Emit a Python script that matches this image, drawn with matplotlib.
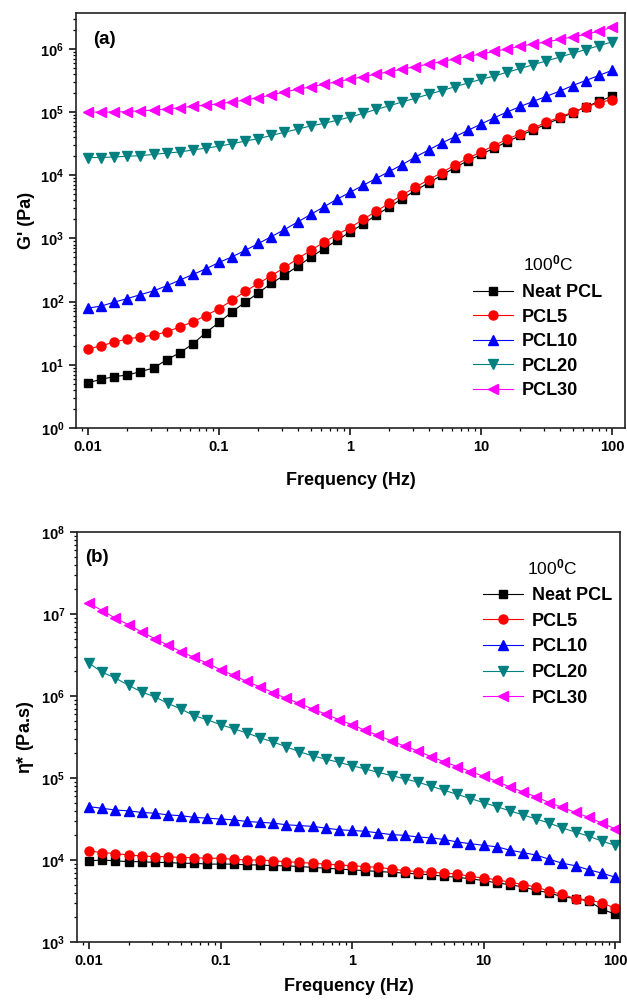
import numpy as np
import matplotlib
matplotlib.use("Agg")
import matplotlib.pyplot as plt
from matplotlib.ticker import LogLocator, NullFormatter, LogFormatterMathtext

plt.rcParams['font.family'] = ['Liberation Sans', 'DejaVu Sans']
plt.rcParams['font.weight'] = 'bold'
plt.rcParams['mathtext.fontset'] = 'custom'
plt.rcParams['mathtext.rm'] = 'Liberation Sans'
plt.rcParams['mathtext.bf'] = 'Liberation Sans:bold'
plt.rcParams['mathtext.default'] = 'bf'

# frequency sweep, 10 points per decade (Hz)
freq = [0.01, 0.0126, 0.0158, 0.02, 0.0251, 0.0316, 0.0398, 0.0501, 0.0631, 0.0794,
        0.1, 0.126, 0.158, 0.2, 0.251, 0.316, 0.398, 0.501, 0.631, 0.794,
        1, 1.26, 1.58, 2, 2.51, 3.16, 3.98, 5.01, 6.31, 7.94,
        10, 12.6, 15.8, 20, 25.1, 31.6, 39.8, 50.1, 63.1, 79.4, 100]

labels = ['Neat PCL', 'PCL5', 'PCL10', 'PCL20', 'PCL30']
colors = ['black', 'red', 'blue', '#008080', 'magenta']
markers = ['s', 'o', '^', 'v', '<']

# storage modulus G' (Pa)
g_neat = [5.2, 5.9, 6.5, 6.9, 7.8, 8.9, 12.0, 15.5, 21.4, 32.4,
          46.8, 69.2, 97.7, 138, 195, 263, 363, 501, 692, 933,
          1260, 1700, 2340, 3160, 4270, 5750, 7590, 1.0e4, 1.32e4, 1.70e4,
          2.14e4, 2.69e4, 3.39e4, 4.27e4, 5.25e4, 6.46e4, 7.94e4, 9.77e4, 1.20e5, 1.48e5, 1.78e5]
g_pcl5 = [17.8, 20.0, 22.9, 25.7, 27.5, 29.5, 33.1, 39.8, 47.9, 60.3,
          77.6, 105, 145, 195, 257, 347, 479, 646, 871, 1150,
          1480, 2000, 2690, 3630, 4900, 6460, 8510, 1.10e4, 1.45e4, 1.86e4,
          2.34e4, 2.95e4, 3.72e4, 4.57e4, 5.62e4, 6.92e4, 8.32e4, 1.0e5, 1.20e5, 1.41e5, 1.58e5]
g_pcl10 = [79, 85, 98, 112, 129, 148, 178, 219, 269, 331,
           417, 513, 646, 832, 1070, 1380, 1820, 2400, 3160, 4170,
           5370, 6920, 8910, 1.15e4, 1.48e4, 1.95e4, 2.51e4, 3.24e4, 4.07e4, 5.13e4,
           6.46e4, 8.13e4, 1.0e5, 1.23e5, 1.48e5, 1.78e5, 2.14e5, 2.63e5, 3.16e5, 3.80e5, 4.57e5]
g_pcl20 = [1.91e4, 1.91e4, 1.95e4, 2.0e4, 2.04e4, 2.14e4, 2.24e4, 2.34e4, 2.51e4, 2.69e4,
           2.88e4, 3.16e4, 3.47e4, 3.80e4, 4.27e4, 4.79e4, 5.37e4, 6.03e4, 6.61e4, 7.41e4,
           8.32e4, 9.55e4, 1.10e5, 1.26e5, 1.45e5, 1.66e5, 1.91e5, 2.19e5, 2.51e5, 2.88e5,
           3.31e5, 3.72e5, 4.27e5, 4.90e5, 5.62e5, 6.46e5, 7.41e5, 8.51e5, 9.77e5, 1.12e6, 1.29e6]
g_pcl30 = [1.00e5, 1.00e5, 1.00e5, 1.02e5, 1.05e5, 1.07e5, 1.12e5, 1.17e5, 1.23e5, 1.29e5,
           1.35e5, 1.45e5, 1.55e5, 1.70e5, 1.86e5, 2.09e5, 2.29e5, 2.51e5, 2.75e5, 3.02e5,
           3.31e5, 3.63e5, 3.98e5, 4.37e5, 4.79e5, 5.25e5, 5.75e5, 6.31e5, 6.92e5, 7.59e5,
           8.32e5, 9.12e5, 1.0e6, 1.10e6, 1.20e6, 1.29e6, 1.41e6, 1.55e6, 1.70e6, 1.91e6, 2.19e6]

# complex viscosity eta* (Pa.s)
eta_neat = [9.77e3, 1.0e4, 9.77e3, 9.55e3, 9.55e3, 9.33e3, 9.33e3, 9.12e3, 9.12e3, 8.91e3,
            8.91e3, 8.91e3, 8.71e3, 8.71e3, 8.51e3, 8.51e3, 8.32e3, 8.13e3, 7.94e3, 7.76e3,
            7.59e3, 7.41e3, 7.24e3, 7.08e3, 6.92e3, 6.76e3, 6.61e3, 6.31e3, 6.17e3, 5.89e3,
            5.62e3, 5.25e3, 5.01e3, 4.68e3, 4.27e3, 3.98e3, 3.55e3, 3.39e3, 3.16e3, 2.51e3, 2.19e3]
eta_pcl5 = [1.29e4, 1.23e4, 1.20e4, 1.15e4, 1.12e4, 1.10e4, 1.10e4, 1.07e4, 1.07e4, 1.05e4,
            1.05e4, 1.02e4, 1.0e4, 1.0e4, 9.77e3, 9.55e3, 9.33e3, 9.12e3, 8.91e3, 8.71e3,
            8.51e3, 8.32e3, 8.13e3, 7.76e3, 7.41e3, 7.24e3, 7.08e3, 6.92e3, 6.76e3, 6.31e3,
            6.03e3, 5.75e3, 5.37e3, 5.01e3, 4.68e3, 4.17e3, 3.80e3, 3.39e3, 3.24e3, 3.02e3, 2.57e3]
eta_pcl10 = [4.47e4, 4.27e4, 4.07e4, 3.98e4, 3.80e4, 3.72e4, 3.55e4, 3.47e4, 3.31e4, 3.24e4,
             3.16e4, 3.09e4, 2.95e4, 2.88e4, 2.82e4, 2.69e4, 2.63e4, 2.57e4, 2.45e4, 2.34e4,
             2.29e4, 2.24e4, 2.14e4, 2.04e4, 2.0e4, 1.91e4, 1.86e4, 1.78e4, 1.66e4, 1.58e4,
             1.51e4, 1.45e4, 1.32e4, 1.23e4, 1.15e4, 1.02e4, 9.12e3, 8.51e3, 7.59e3, 6.92e3, 6.17e3]
eta_pcl20 = [2.51e6, 1.95e6, 1.66e6, 1.35e6, 1.12e6, 9.77e5, 8.13e5, 6.92e5, 5.75e5, 5.13e5,
             4.47e5, 3.98e5, 3.55e5, 3.09e5, 2.75e5, 2.40e5, 2.09e5, 1.86e5, 1.70e5, 1.55e5,
             1.41e5, 1.29e5, 1.17e5, 1.07e5, 9.77e4, 8.91e4, 7.94e4, 7.08e4, 6.31e4, 5.62e4,
             5.01e4, 4.47e4, 3.98e4, 3.55e4, 3.16e4, 2.82e4, 2.45e4, 2.19e4, 1.95e4, 1.70e4, 1.51e4]
eta_pcl30 = [1.35e7, 1.10e7, 8.91e6, 7.41e6, 6.03e6, 5.01e6, 4.17e6, 3.47e6, 2.95e6, 2.51e6,
             2.09e6, 1.78e6, 1.51e6, 1.29e6, 1.10e6, 9.33e5, 8.13e5, 6.92e5, 6.03e5, 5.13e5,
             4.47e5, 3.80e5, 3.31e5, 2.82e5, 2.45e5, 2.14e5, 1.82e5, 1.58e5, 1.38e5, 1.20e5,
             1.05e5, 9.12e4, 7.76e4, 6.76e4, 5.89e4, 5.01e4, 4.37e4, 3.80e4, 3.31e4, 2.82e4, 2.40e4]

g_data = [g_neat, g_pcl5, g_pcl10, g_pcl20, g_pcl30]
eta_data = [eta_neat, eta_pcl5, eta_pcl10, eta_pcl20, eta_pcl30]

W, H = 627, 1002
fig = plt.figure(figsize=(W / 100, H / 100), dpi=100)
ax1 = fig.add_axes([76 / W, 1 - 428 / H, (625 - 76) / W, (428 - 13) / H])
ax2 = fig.add_axes([77 / W, 1 - 942 / H, (620 - 77) / W, (942 - 532) / H])


def style_axis(ax, ylabel, xpad):
    ax.set_xscale('log')
    ax.set_yscale('log')
    ax.set_xticks([0.01, 0.1, 1, 10, 100], labels=['0.01', '0.1', '1', '10', '100'])
    ax.xaxis.set_minor_locator(LogLocator(base=10, subs=np.arange(2, 10)))
    ax.xaxis.set_minor_formatter(NullFormatter())
    ax.yaxis.set_major_locator(LogLocator(base=10))
    ax.yaxis.set_major_formatter(LogFormatterMathtext())
    ax.yaxis.set_minor_locator(LogLocator(base=10, subs=np.arange(2, 10), numticks=20))
    ax.yaxis.set_minor_formatter(NullFormatter())
    ax.tick_params(which='major', direction='out', length=5, width=1.1, labelsize=10.5)
    ax.tick_params(which='minor', direction='out', length=2.5, width=0.9)
    for s in ax.spines.values():
        s.set_linewidth(1.2)
        s.set_color('#222222')
    ax.set_xlabel('Frequency (Hz)', fontsize=13, fontweight='bold', labelpad=xpad)
    ax.set_ylabel(ylabel, fontsize=13, fontweight='bold', labelpad=4)


for vals, lab, c, m in zip(g_data, labels, colors, markers):
    ax1.plot(freq, vals, color=c, marker=m, ms=6.5 if m != 's' else 5.8,
             lw=0.8, mec=c, label=lab)
ax1.set_xlim(0.00809, 125.7)
ax1.set_ylim(1, 3.7e6)
style_axis(ax1, "G' (Pa)", 13)
fig.text(93 / W, 1 - 39 / H, '(a)', fontsize=13.5, fontweight='bold', va='center')

for vals, lab, c, m in zip(eta_data, labels, colors, markers):
    ax2.plot(freq, vals, color=c, marker=m, ms=6.5 if m != 's' else 5.8,
             lw=0.8, mec=c, label=lab)
ax2.set_xlim(0.0081, 109)
ax2.set_ylim(1e3, 1e8)
style_axis(ax2, r'$\mathregular{\eta}$* (Pa.s)', 7)
fig.text(85 / W, 1 - 558 / H, '(b)', fontsize=13.5, fontweight='bold', va='center')

# legends with the temperature written above the entries
for ax, hx, top, tx, ty, sp in [(ax1, 473, 284, 523, 263, 0.42), (ax2, 483, 587, 527, 567, 0.48)]:
    ax.legend(loc='upper left', bbox_to_anchor=(hx / W, 1 - top / H),
              bbox_transform=fig.transFigure, frameon=False,
              borderpad=0, borderaxespad=0, handlelength=2.2, handletextpad=0.5,
              labelspacing=sp, prop={'weight': 'bold', 'size': 13})
    fig.text(tx / W, 1 - ty / H, r'100$^{\mathrm{0}}$C', fontsize=12.5,
             fontweight='normal', va='center', ha='left')

fig.savefig('out.png', dpi=100)
